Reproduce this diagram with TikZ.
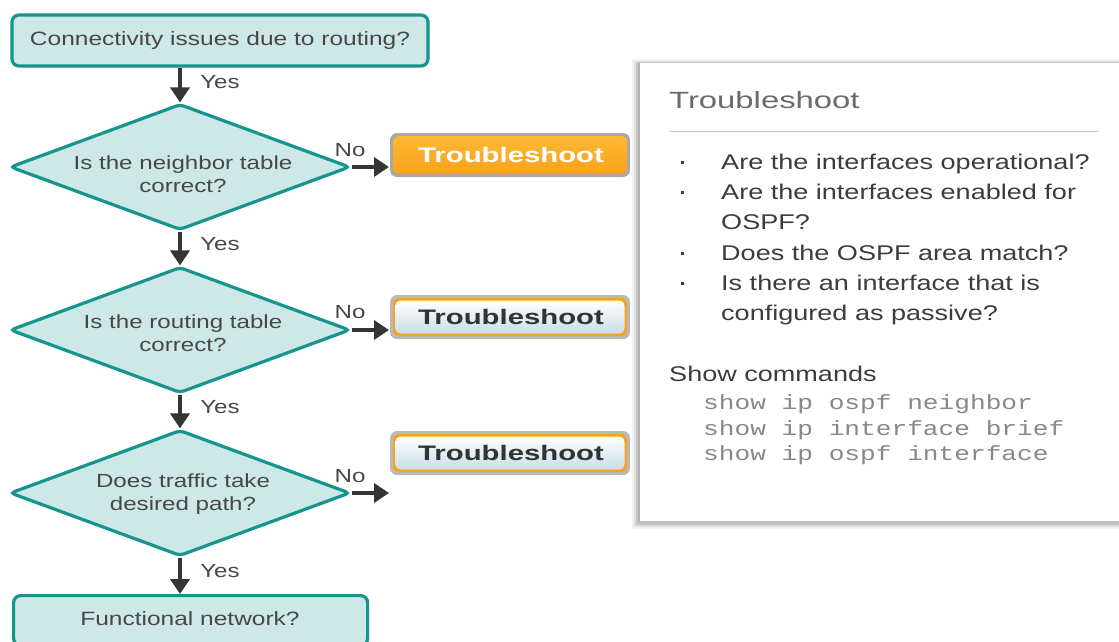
\documentclass[tikz,border=0pt]{standalone}
\usepackage{graphicx}
\usepackage{fontspec}
\setmainfont{Liberation Sans}[FakeStretch=1.27]
\newfontfamily\monof{Liberation Mono}[FakeStretch=1.27]
\usetikzlibrary{shapes.geometric,arrows.meta,shadings}
\definecolor{tealb}{HTML}{16948E}
\definecolor{tealf}{HTML}{CDE8E6}
\definecolor{arrc}{HTML}{353535}
\definecolor{txt}{HTML}{474747}
\definecolor{orng}{HTML}{F8A21E}
\definecolor{orngt}{HTML}{FDB933}
\definecolor{lblue}{HTML}{C9DDE8}
\definecolor{btnedge}{HTML}{A8A8A8}
\definecolor{paneltxt}{HTML}{3C3C3C}
\definecolor{monoc}{HTML}{888888}
\tikzset{
  x=1pt,y=-1pt,
  qbox/.style={draw=tealb,fill=tealf,line width=3.2pt,rounded corners=7pt},
  qtxt/.style={text=txt,inner sep=0pt,font=\fontsize{19.3}{23}\selectfont},
  qdia/.style={diamond,draw=tealb,fill=tealf,line width=3.2pt,rounded corners=4pt,minimum width=340pt,minimum height=126pt,inner sep=0pt},
  dtxt/.style={align=center,inner sep=0pt,text=txt,font=\fontsize{19}{23.5}\selectfont},
  arr/.style={draw=arrc,line width=4.8pt,-{Triangle[length=15pt,width=19pt]}},
  lbl/.style={text=txt,font=\fontsize{19}{22}\selectfont,inner sep=0pt},
  btntxt/.style={font=\fontsize{21}{24}\selectfont\bfseries,inner sep=0pt},
  bul/.style={anchor=base west,inner sep=0pt,text=paneltxt,font=\fontsize{21.3}{24}\selectfont},
  mono/.style={anchor=base west,inner sep=0pt,text=monoc,font=\fontsize{20.6}{24}\monof},
}
\begin{document}
\begin{tikzpicture}
\useasboundingbox (0,0) rectangle (1119,641);
\begin{scope}
\clip (0,0) rectangle (1119,641);
% right panel with shadow
\foreach \o/\op in {6/0.05,4/0.08,2/0.12}{
  \fill[black,opacity=\op] (638-\o,62-\o+3) rectangle (1130,523+\o);
}
\fill[white] (639,62) rectangle (1130,522);
\draw[line width=2.5pt,draw=black!30] (639,62) -- (639,522);
\draw[line width=0.8pt,draw=black!22] (639,62) -- (1130,62);
\draw[line width=1.5pt,draw=black!25] (639,522) -- (1130,522);
\node[anchor=base west,inner sep=0pt,text=black!58,font=\fontsize{23.5}{28}\selectfont] (ptitle) at (669,108) {\scalebox{1.1}[1]{Troubleshoot}};
\draw[draw=black!25,line width=0.8pt] (670,131) -- (1098,131);
\foreach \yy/\tt/\b in {169/Are the interfaces operational?/1,199/Are the interfaces enabled for/1,229/OSPF?/0,260/Does the OSPF area match?/1,290/Is there an interface that is/1,320/configured as passive?/0}{
  \node[bul] at (721,\yy) {\tt};
  \ifnum\b=1 \fill[paneltxt] (680.5,\yy-8.5) rectangle (683.5,\yy-5.5);\fi
}
\node[bul] (showc) at (669,381) {Show commands};
\node[mono] (m1) at (703,409) {show ip ospf neighbor};
\node[mono] (m2) at (703,435) {show ip interface brief};
\node[mono] (m3) at (703,460) {show ip ospf interface};

% flowchart nodes
\node[qbox,minimum width=416pt,minimum height=51pt] (q0) at (220,40.5) {};
\node[qtxt] (q0t) at (220,40.5) {Connectivity issues due to routing?};
\node[qdia] (d1) at (180,167) {};
\node[dtxt] (d1t) at (183,174) {Is the neighbor table\\correct?};
\node[qdia] (d2) at (180,330) {};
\node[dtxt] (d2t) at (183,333) {Is the routing table\\correct?};
\node[qdia] (d3) at (180,493) {};
\node[dtxt] (d3t) at (183,494) {Does traffic take\\desired path?};
\node[qbox,minimum width=354pt,minimum height=50pt,anchor=north west] (q4) at (12,594) {};
\node[qtxt] (q4t) at (190,619) {Functional network?};

% buttons
\fill[btnedge,rounded corners=7pt] (390,133) rectangle (630,177);
\shade[top color=orngt,bottom color=orng,rounded corners=6pt] (393,136) rectangle (627,174);
\node[btntxt,text=white] (t1) at (511,155) {\scalebox{1.1}[1]{Troubleshoot}};
\foreach \yc/\nm in {317/t2,453/t3}{
  \fill[btnedge!80,rounded corners=7pt] (390,\yc-22) rectangle (630,\yc+22);
  \fill[orng,rounded corners=6pt] (393,\yc-19) rectangle (627,\yc+19);
  \shade[top color=white,bottom color=lblue,rounded corners=5pt] (395.5,\yc-16.5) rectangle (624.5,\yc+16.5);
  \node[btntxt,text=black!80] (\nm) at (511,\yc) {\scalebox{1.1}[1]{Troubleshoot}};
}

% connectors
\coordinate (n1) at (389,167);
\coordinate (n2) at (389,330);
\coordinate (n3) at (389,493);
\draw[arr] (q0.south -| d1.north) -- (d1.north);
\draw[arr] (d1.south) -- (d2.north);
\draw[arr] (d2.south) -- (d3.north);
\draw[arr] (d3.south) -- (q4.north -| d3.south);
\draw[arr] (d1.east) -- (n1);
\draw[arr] (d2.east) -- (n2);
\draw[arr] (d3.east) -- (n3);
\node[lbl] (y1) at (220,82) {Yes};
\node[lbl] (y2) at (220,244) {Yes};
\node[lbl] (y3) at (220,407) {Yes};
\node[lbl] (y4) at (220,571) {Yes};
\node[lbl] (no1) at (350,150) {No};
\node[lbl] (no2) at (350,312) {No};
\node[lbl] (no3) at (350,476) {No};
\end{scope}
\end{tikzpicture}
\end{document}
